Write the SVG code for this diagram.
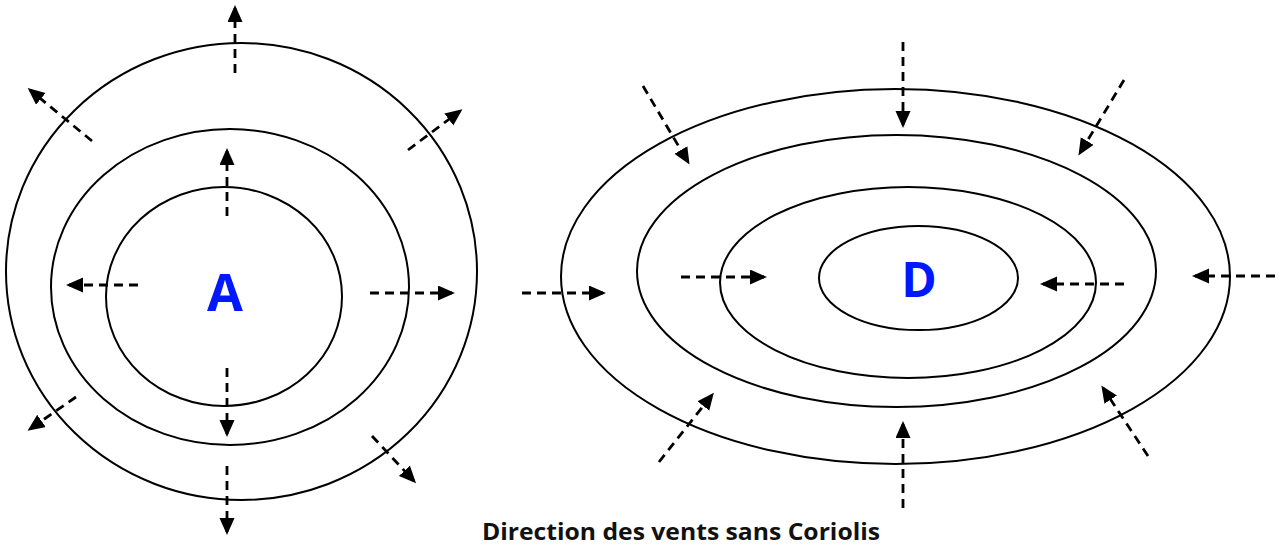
<svg xmlns="http://www.w3.org/2000/svg" width="1285" height="547" viewBox="0 0 1285 547">
<style>
.iso{fill:none;stroke:#000;stroke-width:2}
.wind{stroke:#000;stroke-width:2.8;stroke-dasharray:9 6;fill:none}
.lbl{fill:#0018ff;font-family:"Open Sans","DejaVu Sans",sans-serif;font-weight:bold;text-anchor:middle}
.cap{fill:#111;font-family:"Open Sans","DejaVu Sans",sans-serif;font-weight:bold;font-size:24px;text-anchor:middle}
</style>
<defs>
<marker id="ah" markerUnits="userSpaceOnUse" markerWidth="20" markerHeight="18" refX="14" refY="7.5" orient="auto">
<path d="M0,0 L17,7.5 L0,15 z" fill="#000"/>
</marker>
</defs>
<rect width="1285" height="547" fill="#fff"/>
<g id="high">
<ellipse class="iso" cx="241.5" cy="271.5" rx="235.5" ry="228.5"/>
<ellipse class="iso" cx="230" cy="287" rx="179" ry="158"/>
<ellipse class="iso" cx="224" cy="296.5" rx="118" ry="109.5"/>
<text class="lbl" x="225" y="311" font-size="52">A</text>
</g>
<g id="low">
<ellipse class="iso" cx="895.5" cy="276.5" rx="334.5" ry="187.5"/>
<ellipse class="iso" cx="896.5" cy="271" rx="259.5" ry="136"/>
<ellipse class="iso" cx="908" cy="282.5" rx="188" ry="95.5"/>
<ellipse class="iso" cx="918.5" cy="278" rx="99.5" ry="52"/>
<text class="lbl" x="919" y="297" font-size="48">D</text>
</g>
<g id="winds">
<line class="wind" x1="235" y1="73" x2="235" y2="8" marker-end="url(#ah)"/>
<line class="wind" x1="92" y1="141" x2="30" y2="90" marker-end="url(#ah)"/>
<line class="wind" x1="408" y1="150" x2="460" y2="111" marker-end="url(#ah)"/>
<line class="wind" x1="227" y1="216" x2="227" y2="151" marker-end="url(#ah)"/>
<line class="wind" x1="138" y1="285" x2="69" y2="285" marker-end="url(#ah)"/>
<line class="wind" x1="370" y1="293" x2="452" y2="293" marker-end="url(#ah)"/>
<line class="wind" x1="227" y1="368" x2="227" y2="434" marker-end="url(#ah)"/>
<line class="wind" x1="76" y1="397" x2="30" y2="429" marker-end="url(#ah)"/>
<line class="wind" x1="372" y1="436" x2="414" y2="481" marker-end="url(#ah)"/>
<line class="wind" x1="227" y1="466" x2="227" y2="532" marker-end="url(#ah)"/>
<line class="wind" x1="522" y1="293" x2="603" y2="293" marker-end="url(#ah)"/>
<line class="wind" x1="643" y1="86" x2="688" y2="162" marker-end="url(#ah)"/>
<line class="wind" x1="903" y1="42" x2="903" y2="125" marker-end="url(#ah)"/>
<line class="wind" x1="1124" y1="80" x2="1080" y2="153" marker-end="url(#ah)"/>
<line class="wind" x1="681" y1="277" x2="764" y2="277" marker-end="url(#ah)"/>
<line class="wind" x1="1124" y1="284" x2="1043" y2="284" marker-end="url(#ah)"/>
<line class="wind" x1="1275" y1="276" x2="1195" y2="276" marker-end="url(#ah)"/>
<line class="wind" x1="659" y1="462" x2="712" y2="395" marker-end="url(#ah)"/>
<line class="wind" x1="903" y1="508" x2="903" y2="424" marker-end="url(#ah)"/>
<line class="wind" x1="1148" y1="456" x2="1103" y2="388" marker-end="url(#ah)"/>
</g>
<text class="cap" x="681" y="540" textLength="398" lengthAdjust="spacingAndGlyphs">Direction des vents sans Coriolis</text>
</svg>
